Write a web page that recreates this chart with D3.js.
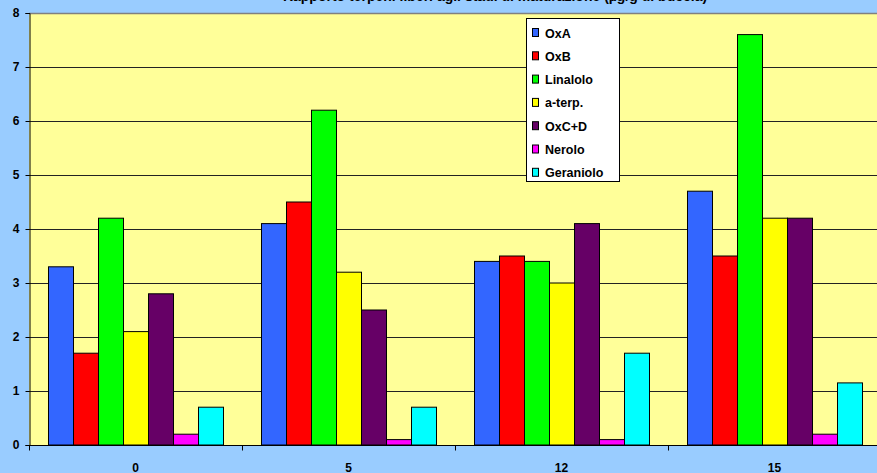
<!DOCTYPE html>
<html>
<head>
<meta charset="utf-8">
<script src="https://cdn.jsdelivr.net/npm/d3@7"></script>
<style>
  html, body { margin: 0; padding: 0; background: #99CCFF; }
  svg { display: block; font-family: Arial, "Liberation Sans", sans-serif; font-weight: bold; }
</style>
</head>
<body>
<svg id="chart" width="877" height="473"></svg>
<script>
// Days of maceration
const categories = ["0", "5", "12", "15"];
const seriesNames = ["OxA", "OxB", "Linalolo", "a-terp.", "OxC+D", "Nerolo", "Geraniolo"];
const seriesColors = ["#3366FF", "#FF0000", "#00FF00", "#FFFF00", "#660066", "#FF00FF", "#00FFFF"];
// one array per compound, one value per category
const oxA       = [3.3, 4.1, 3.4, 4.7];
const oxB       = [1.7, 4.5, 3.5, 3.5];
const linalolo  = [4.2, 6.2, 3.4, 7.6];
const aTerp     = [2.1, 3.2, 3.0, 4.2];
const oxCD      = [2.8, 2.5, 4.1, 4.2];
const nerolo    = [0.2, 0.1, 0.1, 0.2];
const geraniolo = [0.7, 0.7, 1.7, 1.15];
const yTicks = [0, 1, 2, 3, 4, 5, 6, 7, 8];
const titleText = "Rapporto terpeni liberi agli stadi di maturazione (µg/g di buccia)";

const seriesValues = [oxA, oxB, linalolo, aTerp, oxCD, nerolo, geraniolo];

const svg = d3.select("#chart");
const W = 877, H = 473;
const plot = { left: 29, top: 13, right: 881, bottom: 445 };

svg.append("rect").attr("width", W).attr("height", H).attr("fill", "#99CCFF");

// title sits at the very top edge of the chart
svg.append("text")
  .attr("x", 495).attr("y", 1)
  .attr("text-anchor", "middle")
  .attr("font-size", 14)
  .attr("fill", "#000")
  .text(titleText);

const x0 = d3.scaleBand().domain(categories).range([plot.left, plot.right]).paddingInner(0).paddingOuter(0);
const x1 = d3.scaleBand().domain(seriesNames).range([0, x0.bandwidth()]).paddingInner(0).paddingOuter(19 / 25);
const y = d3.scaleLinear().domain([0, 8]).range([plot.bottom, plot.top]);

// plot area
svg.append("rect")
  .attr("x", plot.left).attr("y", plot.top)
  .attr("width", plot.right - plot.left).attr("height", plot.bottom - plot.top)
  .attr("fill", "#FFFF99");

// grid lines
svg.append("g").selectAll("line")
  .data(yTicks.filter(d => d > 0 && d < 8))
  .join("line")
  .attr("x1", plot.left).attr("x2", plot.right)
  .attr("y1", d => Math.round(y(d)) + 0.5).attr("y2", d => Math.round(y(d)) + 0.5)
  .attr("stroke", "#222").attr("stroke-width", 1);

svg.append("line")
  .attr("x1", plot.left).attr("x2", plot.right)
  .attr("y1", plot.top + 0.5).attr("y2", plot.top + 0.5)
  .attr("stroke", "#808080").attr("stroke-width", 1.5);

// bars
const groups = svg.append("g").selectAll("g")
  .data(categories)
  .join("g")
  .attr("transform", d => `translate(${x0(d)},0)`);

groups.selectAll("rect")
  .data((c, ci) => seriesNames.map((s, si) => ({ s, si, v: seriesValues[si][ci] })))
  .join("rect")
  .attr("x", d => x1(d.s) + 0.5)
  .attr("y", d => y(d.v))
  .attr("width", x1.bandwidth())
  .attr("height", d => y(0) - y(d.v))
  .attr("fill", d => seriesColors[d.si])
  .attr("stroke", "#000").attr("stroke-width", 1);

// y axis
const yAxis = d3.axisLeft(y).tickValues(yTicks).tickSize(4).tickPadding(6).tickFormat(d3.format("d"));
const gy = svg.append("g").attr("transform", `translate(${plot.left + 0.5},0)`).call(yAxis);
gy.select(".domain").attr("stroke", "#000");
gy.selectAll(".tick line").attr("stroke", "#000");
gy.selectAll(".tick text").attr("font-size", 12).attr("font-weight", "bold").attr("fill", "#000")
  .attr("font-family", "Arial, 'Liberation Sans', sans-serif");

// x axis: ticks at category boundaries, labels centred
const gx = svg.append("g").attr("transform", `translate(0,${plot.bottom + 0.5})`);
gx.append("line").attr("x1", plot.left).attr("x2", plot.right).attr("stroke", "#000");
const bounds = categories.map(c => x0(c)).concat([x0(categories[categories.length - 1]) + x0.bandwidth()]);
gx.selectAll("line.tk").data(bounds).join("line").attr("class", "tk")
  .attr("x1", d => Math.round(d) + 0.5).attr("x2", d => Math.round(d) + 0.5)
  .attr("y1", 0).attr("y2", 5).attr("stroke", "#000");
gx.selectAll("text").data(categories).join("text")
  .attr("x", d => x0(d) + x0.bandwidth() / 2)
  .attr("y", 26)
  .attr("text-anchor", "middle")
  .attr("font-size", 12)
  .attr("fill", "#000")
  .text(d => d);

// legend
const lg = svg.append("g").attr("transform", "translate(526,18)");
lg.append("rect").attr("x", 0.5).attr("y", 0.5).attr("width", 93).attr("height", 163)
  .attr("fill", "#FFFFFF").attr("stroke", "#000").attr("stroke-width", 1);
const items = lg.selectAll("g").data(seriesNames).join("g")
  .attr("transform", (d, i) => `translate(0,${15 + i * 23.3})`);
items.append("rect").attr("x", 6.5).attr("y", -4.5).attr("width", 6).attr("height", 8)
  .attr("fill", (d, i) => seriesColors[i]).attr("stroke", "#000").attr("stroke-width", 1);
items.append("text").attr("x", 19).attr("y", 4.5)
  .attr("font-size", 12.5).attr("fill", "#000")
  .text(d => d);
</script>
</body>
</html>
